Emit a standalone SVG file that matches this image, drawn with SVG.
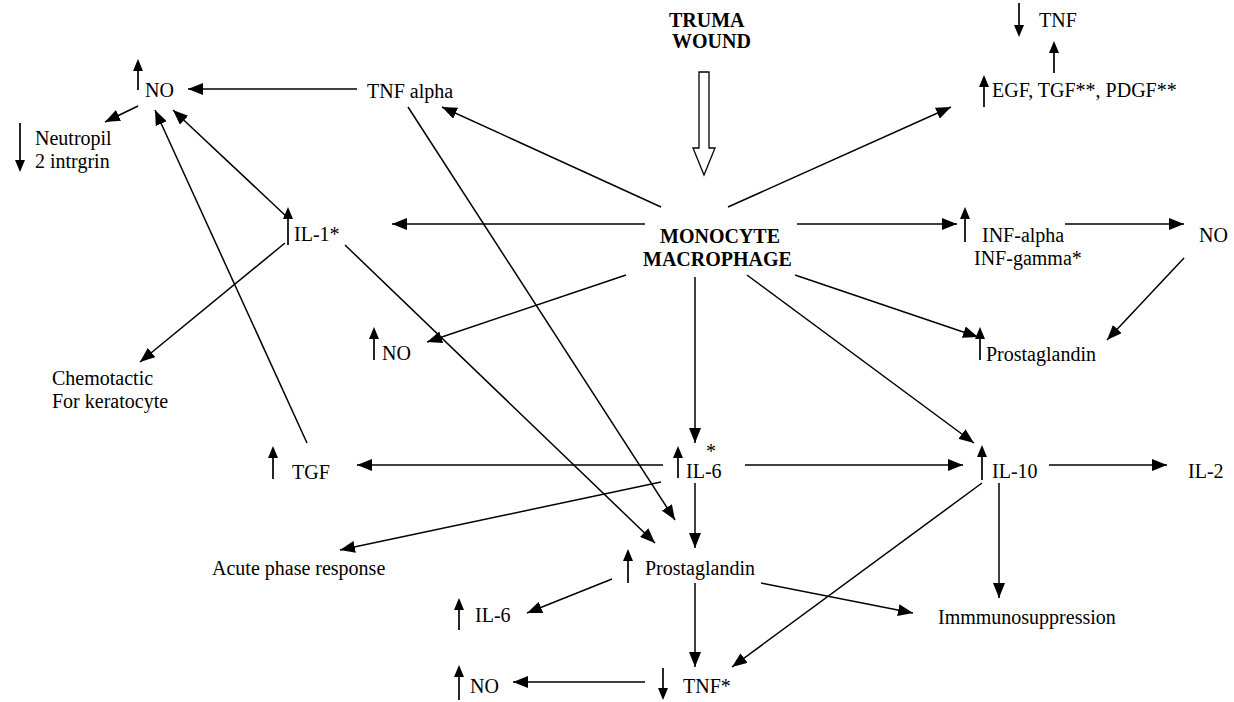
<svg xmlns="http://www.w3.org/2000/svg" width="1234" height="702" viewBox="0 0 1234 702" font-family="'Liberation Serif', 'DejaVu Serif', serif">
<defs>
<marker id="ah" markerUnits="userSpaceOnUse" markerWidth="16" markerHeight="12" refX="15" refY="6" orient="auto">
<path d="M0,0 L15,6 L0,12 z" fill="#000"/>
</marker>
<style>
text{font-family:'Liberation Serif','DejaVu Serif',serif;font-size:20px;fill:#000}
.b{font-weight:bold}
.c line{stroke:#000;stroke-width:1.5;marker-end:url(#ah)}
.g line{stroke:#000;stroke-width:1.7}
.g path{fill:#000}
</style>
</defs>
<rect width="1234" height="702" fill="#fff"/>

<g id="trauma">
<text class="b" x="669" y="27">TRUMA</text>
<text class="b" x="672" y="48">WOUND</text>
<path d="M699,72 H709 V148 H715 L704,175 L693,148 H699 Z" fill="#fff" stroke="#000" stroke-width="1.3"/>
</g>

<g id="tnf-top" class="g">
<line x1="1019" y1="3" x2="1019" y2="28"/><path d="M1014,25 L1024,25 L1019,37 z"/>
<text x="1039" y="27">TNF</text>
<line x1="1054" y1="50" x2="1054" y2="73"/><path d="M1049,53 L1059,53 L1054,41 z"/>
</g>

<g id="egf" class="g">
<line x1="984" y1="84" x2="984" y2="107"/><path d="M979,87 L989,87 L984,75 z"/>
<text x="992" y="97">EGF, TGF**, PDGF**</text>
</g>

<g id="no-top" class="g">
<line x1="138" y1="68" x2="138" y2="90"/><path d="M133,71 L143,71 L138,59 z"/>
<text x="145" y="97">NO</text>
</g>

<g id="tnf-alpha"><text x="367" y="98">TNF alpha</text></g>

<g id="neutropil" class="g">
<line x1="20" y1="123" x2="20" y2="163"/><path d="M15,160 L25,160 L20,172 z"/>
<text x="35" y="145">Neutropil</text>
<text x="35" y="168">2 intrgrin</text>
</g>

<g id="il1" class="g">
<line x1="288" y1="216" x2="288" y2="245"/><path d="M283,219 L293,219 L288,207 z"/>
<text x="294" y="241">IL-1*</text>
</g>

<g id="monocyte">
<text class="b" x="660" y="243">MONOCYTE</text>
<text class="b" x="643" y="266">MACROPHAGE</text>
</g>

<g id="inf" class="g">
<line x1="965" y1="216" x2="965" y2="242"/><path d="M960,219 L970,219 L965,207 z"/>
<text x="982" y="242">INF-alpha</text>
<text x="974" y="265">INF-gamma*</text>
</g>

<g id="no-right"><text x="1199" y="242">NO</text></g>

<g id="chemotactic">
<text x="52" y="385">Chemotactic</text>
<text x="52" y="408">For keratocyte</text>
</g>

<g id="no-mid" class="g">
<line x1="374" y1="336" x2="374" y2="360"/><path d="M369,339 L379,339 L374,327 z"/>
<text x="382" y="360">NO</text>
</g>

<g id="prost-right" class="g">
<line x1="980" y1="336" x2="980" y2="360"/><path d="M975,339 L985,339 L980,327 z"/>
<text x="986" y="361">Prostaglandin</text>
</g>

<g id="tgf" class="g">
<line x1="273" y1="455" x2="273" y2="479"/><path d="M268,458 L278,458 L273,446 z"/>
<text x="292" y="479">TGF</text>
</g>

<g id="il6" class="g">
<text x="706" y="458">*</text>
<line x1="678" y1="455" x2="678" y2="478"/><path d="M673,458 L683,458 L678,446 z"/>
<text x="686" y="478">IL-6</text>
</g>

<g id="il10" class="g">
<line x1="982" y1="454" x2="982" y2="480"/><path d="M977,457 L987,457 L982,445 z"/>
<text x="992" y="478">IL-10</text>
</g>

<g id="il2"><text x="1188" y="478">IL-2</text></g>

<g id="acute"><text x="212" y="575">Acute phase response</text></g>

<g id="prost-bottom" class="g">
<line x1="628" y1="558" x2="628" y2="583"/><path d="M623,561 L633,561 L628,549 z"/>
<text x="645" y="575">Prostaglandin</text>
</g>

<g id="il6-bottom" class="g">
<line x1="459" y1="607" x2="459" y2="630"/><path d="M454,610 L464,610 L459,598 z"/>
<text x="475" y="622">IL-6</text>
</g>

<g id="immuno"><text x="938" y="624">Immmunosuppression</text></g>

<g id="no-bottom" class="g">
<line x1="459" y1="674" x2="459" y2="700"/><path d="M454,677 L464,677 L459,665 z"/>
<text x="470" y="693">NO</text>
</g>

<g id="tnf-star" class="g">
<line x1="663" y1="668" x2="663" y2="691"/><path d="M658,688 L668,688 L663,700 z"/>
<text x="683" y="693">TNF*</text>
</g>

<g id="connectors" class="c">
<line x1="357" y1="89" x2="188" y2="89"/>
<line x1="138" y1="106" x2="105" y2="122"/>
<line x1="287" y1="217" x2="173" y2="110"/>
<line x1="307" y1="443" x2="155" y2="110"/>
<line x1="285" y1="243" x2="140" y2="362"/>
<line x1="345" y1="245" x2="655" y2="543"/>
<line x1="408" y1="107" x2="675" y2="520"/>
<line x1="661" y1="207" x2="442" y2="107"/>
<line x1="728" y1="207" x2="951" y2="107"/>
<line x1="645" y1="224" x2="392" y2="224"/>
<line x1="797" y1="224" x2="957" y2="224"/>
<line x1="1065" y1="224" x2="1184" y2="224"/>
<line x1="1184" y1="258" x2="1107" y2="340"/>
<line x1="795" y1="275" x2="978" y2="337"/>
<line x1="626" y1="275" x2="427" y2="342"/>
<line x1="695" y1="277" x2="695" y2="443"/>
<line x1="747" y1="275" x2="974" y2="443"/>
<line x1="663" y1="465" x2="357" y2="465"/>
<line x1="745" y1="465" x2="963" y2="465"/>
<line x1="1049" y1="465" x2="1167" y2="465"/>
<line x1="999" y1="483" x2="999" y2="598"/>
<line x1="661" y1="482" x2="340" y2="550"/>
<line x1="695" y1="483" x2="695" y2="548"/>
<line x1="612" y1="579" x2="527" y2="613"/>
<line x1="761" y1="583" x2="913" y2="613"/>
<line x1="695" y1="583" x2="695" y2="667"/>
<line x1="982" y1="483" x2="732" y2="667"/>
<line x1="645" y1="682" x2="513" y2="682"/>
</g>
</svg>
